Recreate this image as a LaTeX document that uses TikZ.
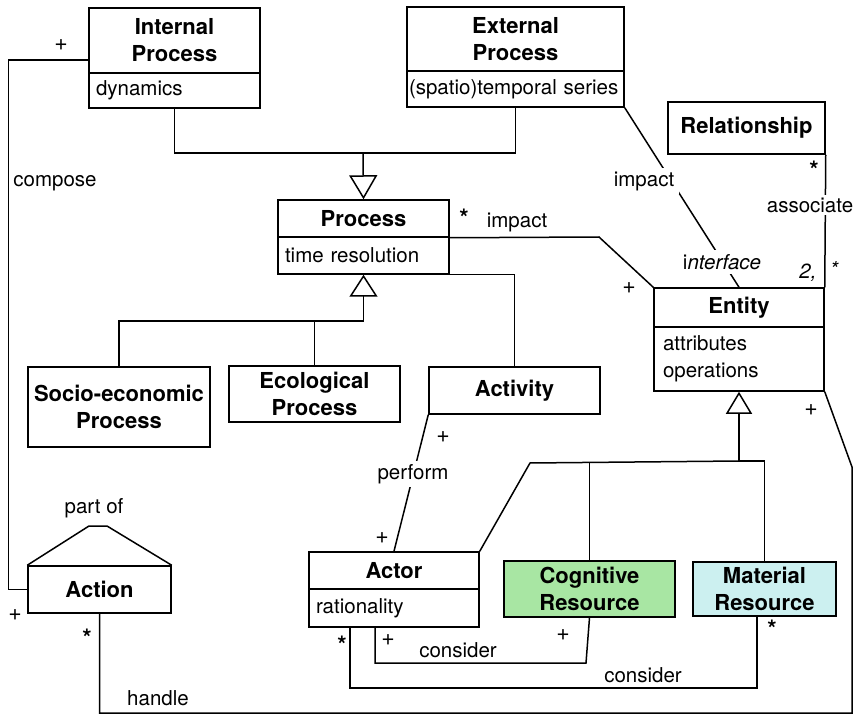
\documentclass[tikz,border=0pt]{standalone}
\usepackage{fontspec}
\setmainfont{TeX Gyre Heros}
\usetikzlibrary{arrows.meta}
\definecolor{cogfill}{HTML}{A8E6A3}
\definecolor{matfill}{HTML}{CCF0F0}
\newcommand\bxfont{\fontsize{22}{27}\selectfont\bfseries}
\newcommand\rxfont{\fontsize{20.5}{27}\selectfont}
\begin{document}
\begin{tikzpicture}[x=1pt,y=-1pt,line width=1.5pt,
  cls/.style={draw, fill=white, inner sep=0pt, align=center, font=\bxfont},
  attr/.style={draw, fill=white, inner xsep=7pt, inner ysep=0pt, align=left, font=\rxfont},
  lab/.style={inner sep=1pt, font=\rxfont},
  labw/.style={lab, fill=white, inner xsep=3pt, inner ysep=3pt},
  mult/.style={inner sep=0pt, font=\fontsize{24}{24}\selectfont\bfseries},
  plus/.style={inner sep=0pt, font=\fontsize{23}{23}\selectfont},
  gen/.style={-{Triangle[open, length=22pt, width=28pt]}},
  gentop/.style={-{Triangle[open, length=24pt, width=28pt]}}]
\useasboundingbox (0,0) rectangle (860,714);

% --- classes ---
\node[cls, minimum width=171pt, minimum height=65pt] (ipT) at (174.5,40.5) {Internal\\Process};
\node[attr, minimum width=171pt, minimum height=35pt, text width=157pt] (ipB) at (174.5,90.5) {dynamics};

\node[cls, minimum width=217pt, minimum height=64pt] (epT) at (515.5,39) {External\\Process};
\node[attr, inner xsep=2pt, minimum width=217pt, minimum height=36pt, text width=213pt] (epB) at (515.5,89) {(spatio)temporal series};

\node[cls, minimum width=157pt, minimum height=52pt] (rel) at (746.5,128) {Relationship};

\node[cls, minimum width=171pt, minimum height=37pt] (prT) at (363.5,218.5) {Process};
\node[attr, minimum width=171pt, minimum height=37pt, text width=157pt] (prB) at (363.5,255.5) {time resolution};

\node[cls, minimum width=170pt, minimum height=39pt] (enT) at (739,307.5) {Entity};
\node[attr, minimum width=170pt, minimum height=64pt, text width=152pt, inner xsep=9pt] (enB) at (739,359) {attributes\\operations};

\node[cls, minimum width=182pt, minimum height=80pt] (soc) at (119,407) {Socio-economic\\Process};
\node[cls, minimum width=171pt, minimum height=56pt] (eco) at (314.5,394) {Ecological\\Process};
\node[cls, minimum width=171pt, minimum height=47pt] (act) at (514.5,390.5) {Activity};

\node[cls, minimum width=170pt, minimum height=37pt] (acT) at (394,570.5) {Actor};
\node[attr, minimum width=170pt, minimum height=38pt, text width=156pt] (acB) at (394,608) {rationality};

\node[cls, fill=cogfill, minimum width=171pt, minimum height=56pt] (cog) at (589.5,589) {Cognitive\\Resource};
\node[cls, fill=matfill, minimum width=143pt, minimum height=54pt] (mat) at (764.5,589) {Material\\Resource};

\node[cls, minimum width=143pt, minimum height=47pt] (action) at (99.5,589.5) {Action};
\draw (action.north west) -- (89,526) -- (107,526) -- (action.north east);
\node[lab] (partof) at (94,508) {part of};

% --- generalisation into Process ---
\coordinate (gtop) at (363,153);
\draw (ipB.south) |- (gtop);
\draw (epB.south) |- (gtop);
\draw[gentop] (gtop) -- (prT.north);

\coordinate (gp) at (363.5,321);
\draw[gen] (gp) -- (prB.south);
\draw (soc.north) |- (gp);
\draw (eco.north) -- (eco.north |- gp);
\draw (prB.south east) -| (act.north);

% --- generalisation into Entity ---
\coordinate (ge) at (739,461);
\coordinate (gl) at (530,463);
\coordinate (gc) at (589.5,462.5);
\draw[{Triangle[open, length=22pt, width=26pt]}-] (enB.south) -- (ge);
\draw (ge) -- (gl) -- (acT.north east);
\draw (gc) -- (cog.north);
\draw (ge) -| (mat.north);

% --- associations ---
\coordinate (pi) at (599,237);
\draw (prT.south east) -- (pi) -- (enT.north west);
\node[lab] (impA) at (517,222) {impact};
\node[mult] at (464,218) {*};
\node[plus] at (629,288) {\itshape +};

\draw (epB.south east) -- (enT.north);
\node[labw, inner xsep=5pt, inner ysep=4pt] (impB) at (644,181) {impact};
\node[labw, inner ysep=4pt] (intf) at (722,262) {i\textit{nterface}};

\draw (rel.south east) -- (enT.north east);
\node[labw] (assoc) at (810,205) {associate};
\node[mult] at (814,170) {*};
\node[lab] at (808,273) {\itshape 2,};
\node[lab] at (834,269) {\itshape *};

\draw ([yshift=-19.5pt]ipT.west) -- ++(-80,0) |- (action.west);
\node[labw] (compose) at (55,183) {compose};
\node[plus] at (61,45) {\itshape +};
\node[plus] at (15,615) {\itshape +};

\coordinate (hb) at (852,713);
\coordinate (hr) at (852,467);
\draw (action.south) |- (hb) -- (hr) -- (enB.south east);
\node[mult] at (87,638) {*};
\node[lab] (handle) at (158,698) {handle};
\node[plus] at (811,410) {+};

\draw (act.south west) -- (acT.north);
\node[labw] (perform) at (413,474) {perform};
\node[plus] at (443,437) {+};
\node[plus] at (382,538) {+};

\coordinate (c1) at (586,663);
\draw ([xshift=-19pt]acB.south) |- (c1) -- (cog.south);
\node[plus] at (388,640) {+};
\node[lab] (cons1) at (458,650) {consider};
\node[plus] at (563,635) {\itshape +};

\draw ([xshift=-44pt]acB.south) -- ++(0,60) -| ([xshift=-7.5pt]mat.south);
\node[mult] at (342,645) {*};
\node[lab] (cons2) at (643,675) {consider};
\node[mult] at (772,629) {*};
\end{tikzpicture}
\end{document}
